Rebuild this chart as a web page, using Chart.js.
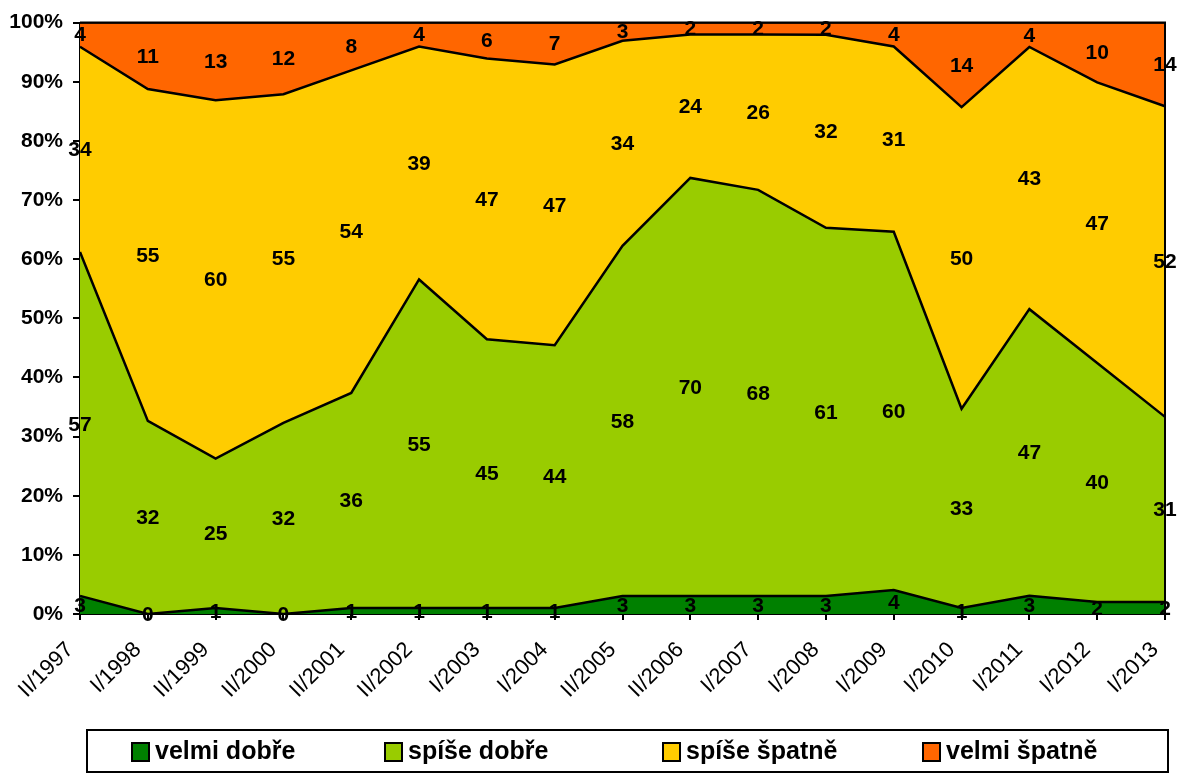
<!DOCTYPE html>
<html><head><meta charset="utf-8">
<script src="https://cdn.jsdelivr.net/npm/chart.js@4/dist/chart.umd.min.js"></script>
<style>html,body{margin:0;padding:0;background:#fff;}#wrap{width:1179px;height:774px;}</style>
</head><body><div id="wrap"><canvas id="c" width="1179" height="774"></canvas></div>
<script>
const categories = ['II/1997','I/1998','II/1999','II/2000','II/2001','II/2002','I/2003','I/2004','II/2005','II/2006','I/2007','I/2008','I/2009','I/2010','I/2011','I/2012','I/2013'];
const velmiDobre  = [3,0,1,0,1,1,1,1,3,3,3,3,4,1,3,2,2];
const spiseDobre  = [57,32,25,32,36,55,45,44,58,70,68,61,60,33,47,40,31];
const spiseSpatne = [34,55,60,55,54,39,47,47,34,24,26,32,31,50,43,47,52];
const velmiSpatne = [4,11,13,12,8,4,6,7,3,2,2,2,4,14,4,10,14];
const seriesNames = ['velmi dobře','spíše dobře','spíše špatně','velmi špatně'];
const seriesColors = ['#008000','#99cc00','#ffcc00','#ff6600'];
const yMin = 0, yMax = 100, yStep = 10;

const FONT = "'Liberation Sans', Arial, Helvetica, sans-serif";
const rawSeries = [velmiDobre, spiseDobre, spiseSpatne, velmiSpatne];
const totals = categories.map((_, j) => rawSeries.reduce((s, arr) => s + arr[j], 0));
const pctSeries = rawSeries.map(arr => arr.map((v, j) => v / totals[j] * 100));

const labelPlugin = {
  id: 'valueLabels',
  afterDatasetsDraw(chart) {
    const ctx = chart.ctx, xs = chart.scales.x, ys = chart.scales.y;
    ctx.save();
    ctx.font = 'bold 21px ' + FONT;
    ctx.fillStyle = '#000';
    ctx.textAlign = 'center';
    ctx.textBaseline = 'middle';
    categories.forEach((c, j) => {
      let cum = 0;
      rawSeries.forEach((arr, i) => {
        const p = pctSeries[i][j];
        const yc = ys.getPixelForValue(cum + p / 2);
        ctx.fillText(String(arr[j]), xs.getPixelForValue(j), yc + 1);
        cum += p;
      });
    });
    ctx.restore();
  }
};

const framePlugin = {
  id: 'frameLegend',
  afterDraw(chart) {
    const ctx = chart.ctx, a = chart.chartArea;
    ctx.save();
    ctx.strokeStyle = '#000';
    ctx.lineWidth = 2;
    ctx.beginPath();
    ctx.moveTo(a.left, a.top); ctx.lineTo(a.right, a.top); ctx.lineTo(a.right, a.bottom);
    ctx.stroke();
    // legend
    ctx.strokeRect(87, 730, 1081, 42);
    const boxX = [132, 385, 663, 923];
    ctx.font = 'bold 25px ' + FONT;
    ctx.textBaseline = 'middle';
    ctx.textAlign = 'left';
    seriesNames.forEach((n, i) => {
      ctx.fillStyle = seriesColors[i];
      ctx.fillRect(boxX[i], 743, 17, 18);
      ctx.lineWidth = 2;
      ctx.strokeStyle = '#000';
      ctx.strokeRect(boxX[i], 743, 17, 18);
      ctx.fillStyle = '#000';
      ctx.fillText(n, boxX[i] + 23, 752);
    });
    ctx.restore();
  }
};

new Chart(document.getElementById('c'), {
  type: 'line',
  data: {
    labels: categories,
    datasets: pctSeries.map((d, i) => ({
      label: seriesNames[i],
      data: d,
      backgroundColor: seriesColors[i],
      borderColor: '#000',
      borderWidth: 2.5,
      pointRadius: 0,
      tension: 0,
      fill: i === 0 ? 'origin' : '-1'
    }))
  },
  options: {
    responsive: false,
    animation: false,
    layout: { padding: { top: 22, right: 14, bottom: 45, left: 0 } },
    plugins: { legend: { display: false }, tooltip: { enabled: false } },
    scales: {
      x: {
        offset: false,
        grid: { drawOnChartArea: false, color: '#000', lineWidth: 2, tickLength: 6 },
        border: { color: '#000', width: 2 },
        ticks: { color: '#000', font: { family: FONT, size: 22 }, maxRotation: 45, minRotation: 45, autoSkip: false, padding: 17, labelOffset: -10 },
        afterFit(s) { s.height = 115; s.paddingRight = 0; s.paddingLeft = 0; }
      },
      y: {
        stacked: true,
        min: yMin, max: yMax,
        grid: { drawOnChartArea: false, color: '#000', lineWidth: 2, tickLength: 7 },
        border: { color: '#000', width: 2 },
        ticks: { stepSize: yStep, color: '#000', font: { family: FONT, size: 21, weight: 'bold' }, padding: 10, callback: v => v + '%' },
        afterFit(s) { s.width = 80; }
      }
    }
  },
  plugins: [labelPlugin, framePlugin]
});
</script></body></html>
